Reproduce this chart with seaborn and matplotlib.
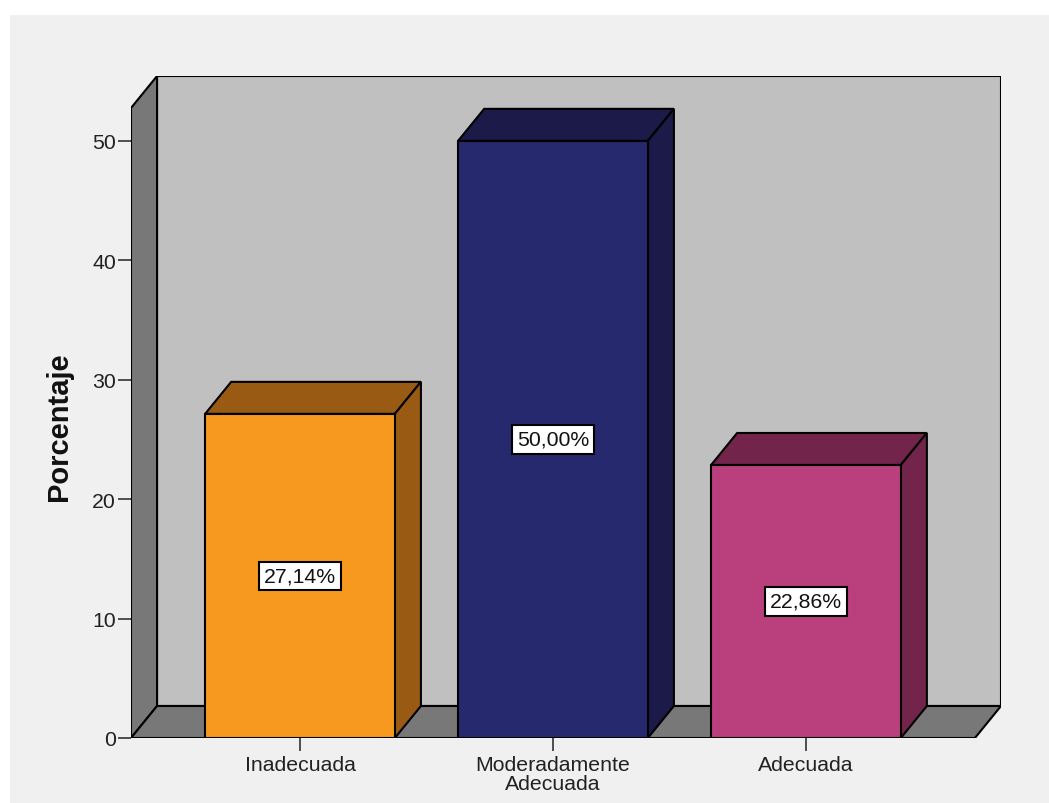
import matplotlib
matplotlib.use("Agg")
import numpy as np
import pandas as pd
import matplotlib.pyplot as plt
import seaborn as sns
from matplotlib.patches import Polygon, Rectangle

# ---- data ----
categories = ["Inadecuada", "Moderadamente\nAdecuada", "Adecuada"]
values = [27.14, 50.00, 22.86]
value_labels = ["27,14%", "50,00%", "22,86%"]
y_ticks = [0, 10, 20, 30, 40, 50]
y_label = "Porcentaje"

front_colors = ["#F7991F", "#27296F", "#BA3F7D"]
side_colors = ["#995B13", "#1B1A48", "#72244B"]

sns.set_style("white")
plt.rcParams['font.family'] = ['Liberation Sans', 'DejaVu Sans']

W, H = 1049, 804
fig = plt.figure(figsize=(W / 100, H / 100), dpi=100)
fig.patch.set_facecolor("white")
fig.add_artist(Rectangle((10 / W, 0), 1, (H - 16) / H, transform=fig.transFigure,
                         facecolor="#F0F0F0", edgecolor="none", zorder=0))

ax = fig.add_axes([131 / W, 65 / H, 870 / W, 662 / H])
ax.patch.set_visible(False)

df = pd.DataFrame({"cat": categories, "pct": values})
sns.barplot(data=df, x="cat", y="pct", hue="cat", palette=front_colors,
            width=0.75, edgecolor="black", linewidth=1.5, legend=False,
            ax=ax, zorder=5, saturation=1)
bars = list(ax.patches)

# 3D frame geometry
dx, dy = 0.103, 2.68
x_lo, x_hi = -0.668, 2.668
ytop = 52.75
ax.set_xlim(x_lo, x_hi + dx)
ax.set_ylim(0, ytop + dy)

lw = 1.5
ax.add_patch(Rectangle((x_lo + dx, dy), x_hi - x_lo, ytop, facecolor="#C0C0C0",
                       edgecolor="black", lw=lw, zorder=1))
ax.add_patch(Polygon([(x_lo, 0), (x_lo + dx, dy), (x_lo + dx, ytop + dy), (x_lo, ytop)],
                     closed=True, facecolor="#787878", edgecolor="black", lw=lw, zorder=2))
ax.add_patch(Polygon([(x_lo, 0), (x_hi, 0), (x_hi + dx, dy), (x_lo + dx, dy)],
                     closed=True, facecolor="#787878", edgecolor="black", lw=lw, zorder=2))

for bar, sc, lab in zip(bars, side_colors, value_labels):
    x0, w, h = bar.get_x(), bar.get_width(), bar.get_height()
    ax.add_patch(Polygon([(x0, h), (x0 + w, h), (x0 + w + dx, h + dy), (x0 + dx, h + dy)],
                         closed=True, facecolor=sc, edgecolor="black", lw=lw, zorder=4))
    ax.add_patch(Polygon([(x0 + w, 0), (x0 + w + dx, dy), (x0 + w + dx, h + dy), (x0 + w, h)],
                         closed=True, facecolor=sc, edgecolor="black", lw=lw, zorder=4))
    ax.text(x0 + w / 2, h / 2, lab, ha="center", va="center", fontsize=15.3, color="#111111",
            zorder=7, bbox=dict(boxstyle="square,pad=0.22", facecolor="white",
                                edgecolor="black", lw=1.5))

for s in ax.spines.values():
    s.set_visible(False)

ax.set_yticks(y_ticks)
ax.set_xticks(range(len(categories)))
ax.set_xticklabels(categories, linespacing=1.0)
ax.set_xlabel("")
ax.tick_params(axis="both", left=True, bottom=True, length=9.4, width=1.1,
               color="#222222", labelsize=15.3, labelcolor="#222222")
ax.tick_params(axis="y", pad=1.5)
ax.tick_params(axis="x", pad=3)

ax.set_ylabel(y_label, fontsize=21, fontweight="bold", color="#111111")
ax.yaxis.set_label_coords((59.5 - 131) / 870, (739 - 427) / 662)
ax.yaxis.label.set_va("center")

fig.savefig("out.png", dpi=100)
